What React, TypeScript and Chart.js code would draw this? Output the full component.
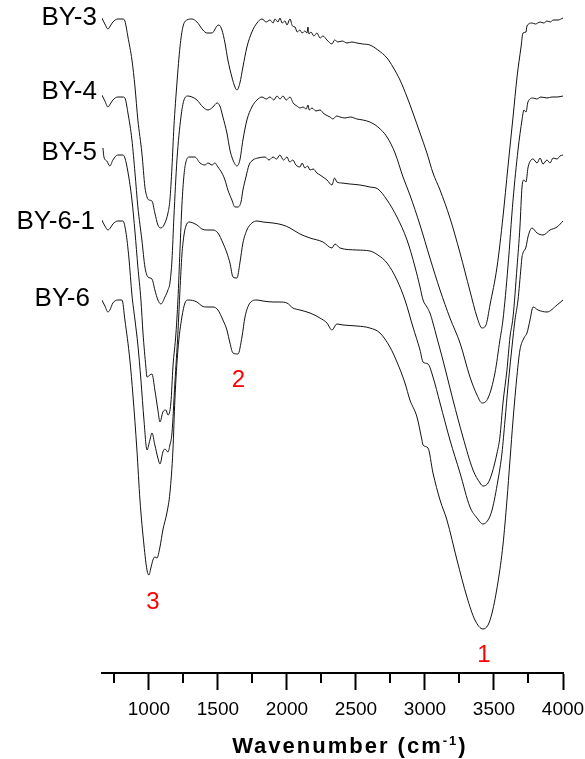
import React, { useEffect, useRef } from "react";
import { Chart, registerables } from "chart.js";

Chart.register(...registerables);

type Pt = [number, number];

// FTIR transmittance traces, [wavenumber (cm-1), transmittance (a.u., offset per sample)]
const BY3: Pt[] = [
  [659, 655], [681, 649], [703, 644], [720, 647], [739, 651], [775, 654], [812, 654], [826, 652],
  [848, 636], [877, 613], [899, 586], [920, 553], [949, 520], [971, 486], [986, 476], [1000, 473],
  [1022, 472], [1043, 460], [1065, 448], [1087, 445], [1116, 450], [1138, 460], [1152, 473], [1167, 506],
  [1181, 546], [1203, 590], [1225, 626], [1246, 646], [1275, 653], [1312, 654], [1348, 651], [1391, 643],
  [1420, 640], [1457, 640], [1493, 647], [1507, 648], [1529, 643], [1551, 630], [1572, 613], [1601, 596],
  [1623, 586], [1638, 583], [1659, 590], [1681, 606], [1710, 626], [1746, 641], [1783, 650], [1819, 654],
  [1850, 651], [1877, 653], [1900, 650], [1913, 654], [1935, 651], [1949, 655], [1965, 650], [1986, 652],
  [2000, 648], [2022, 654], [2040, 647], [2058, 646], [2075, 641], [2094, 643], [2110, 640], [2130, 642],
  [2145, 640], [2152, 646], [2160, 639], [2174, 641], [2195, 637], [2217, 640], [2240, 635], [2261, 637],
  [2290, 633], [2326, 629], [2345, 633], [2370, 631], [2400, 632], [2435, 630], [2470, 631], [2507, 630],
  [2550, 629], [2601, 628], [2659, 623], [2725, 615], [2768, 606], [2819, 593], [2870, 576], [2913, 560],
  [2964, 540], [3014, 520], [3058, 500], [3109, 483], [3181, 455], [3254, 420], [3326, 382], [3377, 356],
  [3413, 345], [3442, 348], [3471, 368], [3522, 406], [3565, 456], [3601, 506], [3638, 556], [3667, 596],
  [3696, 626], [3710, 640], [3732, 641], [3739, 647], [3775, 650], [3800, 649], [3834, 651], [3860, 650],
  [3884, 652], [3910, 651], [3928, 653], [3964, 653], [4000, 655],
];

const BY4: Pt[] = [
  [659, 578], [681, 572], [703, 566], [720, 569], [739, 573], [775, 576], [812, 576], [826, 575],
  [848, 560], [877, 533], [899, 500], [920, 466], [949, 433], [971, 406], [993, 396], [1022, 394],
  [1043, 383], [1065, 373], [1087, 369], [1116, 376], [1138, 383], [1152, 390], [1167, 413], [1181, 456],
  [1203, 513], [1232, 556], [1254, 573], [1283, 577], [1312, 576], [1348, 573], [1391, 566], [1428, 563],
  [1464, 566], [1493, 570], [1514, 567], [1536, 556], [1565, 540], [1587, 523], [1609, 513], [1638, 507],
  [1659, 513], [1681, 533], [1710, 553], [1746, 566], [1783, 573], [1819, 576], [1850, 574], [1877, 576],
  [1905, 573], [1928, 577], [1950, 574], [1971, 577], [1995, 573], [2022, 576], [2045, 570], [2072, 567],
  [2095, 565], [2116, 566], [2140, 564], [2152, 568], [2162, 563], [2181, 565], [2210, 562], [2239, 563],
  [2270, 559], [2312, 556], [2333, 554], [2360, 557], [2384, 556], [2420, 555], [2460, 556], [2507, 554],
  [2550, 553], [2601, 551], [2659, 546], [2725, 536], [2783, 520], [2841, 496], [2891, 478], [2964, 448],
  [3036, 415], [3109, 383], [3181, 355], [3254, 330], [3326, 296], [3377, 278], [3413, 270], [3457, 275],
  [3507, 300], [3543, 333], [3565, 353], [3601, 406], [3638, 473], [3674, 523], [3703, 553], [3717, 563],
  [3732, 561], [3746, 571], [3783, 575], [3810, 574], [3840, 576], [3884, 575], [3920, 576], [3957, 576],
  [4000, 577],
];

const BY5: Pt[] = [
  [667, 525], [674, 516], [695, 512], [717, 507], [739, 513], [775, 518], [812, 518], [826, 515],
  [848, 501], [877, 473], [899, 441], [920, 406], [942, 373], [957, 340], [978, 306], [986, 296],
  [1007, 298], [1022, 299], [1043, 283], [1065, 263], [1080, 251], [1101, 261], [1123, 263], [1138, 258],
  [1159, 270], [1174, 306], [1196, 340], [1210, 373], [1225, 423], [1239, 468], [1254, 498], [1268, 511],
  [1290, 516], [1333, 516], [1370, 510], [1406, 508], [1428, 510], [1457, 508], [1478, 510], [1500, 506],
  [1529, 500], [1551, 493], [1572, 483], [1601, 473], [1623, 466], [1645, 466], [1667, 471], [1681, 483],
  [1703, 496], [1725, 508], [1754, 513], [1790, 515], [1841, 516], [1870, 513], [1899, 516], [1925, 514],
  [1949, 518], [1975, 513], [2000, 516], [2020, 511], [2043, 513], [2065, 508], [2094, 506], [2110, 510],
  [2130, 505], [2150, 507], [2167, 503], [2190, 504], [2217, 500], [2240, 498], [2261, 496], [2290, 493],
  [2326, 488], [2345, 495], [2362, 491], [2398, 490], [2457, 489], [2529, 488], [2601, 486], [2659, 484],
  [2725, 473], [2797, 456], [2870, 433], [2928, 406], [2964, 386], [2986, 373], [3014, 366], [3036, 360],
  [3058, 350], [3087, 335], [3130, 313], [3203, 273], [3275, 236], [3348, 203], [3399, 190], [3420, 187],
  [3457, 190], [3486, 200], [3522, 220], [3543, 236], [3565, 270], [3594, 303], [3616, 336], [3638, 356],
  [3667, 406], [3688, 446], [3703, 486], [3717, 493], [3732, 491], [3746, 505], [3768, 513], [3783, 514],
  [3812, 510], [3834, 515], [3855, 509], [3884, 513], [3906, 510], [3928, 515], [3957, 514], [3978, 517],
  [4000, 518],
];

const BY61: Pt[] = [
  [659, 453], [681, 447], [703, 443], [720, 445], [739, 449], [775, 452], [812, 452], [833, 441],
  [855, 415], [877, 378], [899, 353], [920, 328], [942, 293], [964, 253], [986, 223], [1007, 233],
  [1022, 240], [1043, 228], [1065, 215], [1080, 209], [1101, 221], [1116, 224], [1138, 221], [1152, 228],
  [1167, 240], [1188, 290], [1210, 340], [1225, 383], [1239, 418], [1254, 438], [1268, 447], [1290, 451],
  [1348, 448], [1384, 444], [1420, 443], [1464, 443], [1500, 440], [1536, 430], [1565, 420], [1587, 410],
  [1609, 396], [1638, 395], [1659, 410], [1681, 430], [1710, 443], [1746, 450], [1783, 452], [1826, 451],
  [1899, 450], [1971, 448], [2022, 445], [2094, 439], [2167, 435], [2261, 431], [2326, 425], [2348, 429],
  [2384, 425], [2507, 423], [2601, 422], [2659, 418], [2725, 410], [2797, 393], [2855, 373], [2913, 346],
  [2964, 323], [2986, 311], [3022, 309], [3058, 296], [3109, 270], [3181, 233], [3254, 200], [3326, 166],
  [3377, 155], [3420, 149], [3457, 153], [3486, 163], [3529, 193], [3558, 220], [3580, 253], [3601, 286],
  [3638, 336], [3652, 353], [3674, 373], [3696, 406], [3703, 416], [3710, 420], [3732, 426], [3746, 436],
  [3775, 445], [3812, 440], [3855, 438], [3906, 443], [3957, 446], [4000, 452],
];

const BY6: Pt[] = [
  [659, 373], [681, 367], [703, 361], [717, 363], [739, 370], [775, 373], [805, 373], [826, 353],
  [862, 313], [884, 278], [913, 223], [935, 173], [964, 128], [986, 103], [1000, 98], [1014, 105],
  [1029, 113], [1043, 116], [1058, 115], [1080, 126], [1101, 143], [1130, 160], [1152, 180], [1174, 223],
  [1188, 273], [1210, 323], [1239, 356], [1261, 370], [1283, 373], [1348, 371], [1384, 367], [1420, 366],
  [1464, 366], [1500, 363], [1536, 353], [1565, 343], [1587, 330], [1609, 320], [1645, 319], [1674, 336],
  [1696, 356], [1732, 370], [1783, 373], [1826, 372], [1899, 371], [1949, 371], [2000, 370], [2043, 365],
  [2094, 363], [2167, 360], [2239, 355], [2290, 350], [2326, 343], [2362, 349], [2406, 348], [2507, 347],
  [2601, 345], [2674, 340], [2746, 326], [2797, 311], [2855, 290], [2891, 273], [2942, 256], [2978, 233],
  [2986, 228], [3022, 225], [3058, 200], [3109, 173], [3159, 153], [3232, 113], [3304, 76], [3362, 53],
  [3420, 44], [3457, 48], [3486, 60], [3529, 91], [3565, 128], [3594, 173], [3616, 213], [3638, 253],
  [3667, 298], [3688, 323], [3717, 335], [3739, 340], [3761, 353], [3783, 366], [3819, 363], [3884, 361],
  [3957, 368], [4000, 373],
];

const sampleNames = ["BY-3", "BY-4", "BY-5", "BY-6-1", "BY-6"];
const sampleTraces = [BY3, BY4, BY5, BY61, BY6];
// right edge (cm-1) and level of each sample name
const sampleNameAnchors: Pt[] = [[623, 655], [623, 581], [623, 520], [609, 451], [573, 374]];

const bandNames = ["1", "2", "3"];
const bandAnchors: Pt[] = [[3427, 18], [1648, 292.5], [1029, 70.5]];

const majorTicks = [1000, 1500, 2000, 2500, 3000, 3500, 4000];
const minorTicks = [750, 1250, 1750, 2250, 2750, 3250, 3750];
const axisTitle = "Wavenumber (cm";
const axisTitleSup = "-1";
const axisTitleEnd = ")";
const axisTitleCenter = 2456;

const X_MIN = 660;
const X_MAX = 4000;
const Y_MIN = 0;
const Y_MAX = 665;

const FAMILY = '"Liberation Sans", Arial, Helvetica, sans-serif';

const annotations = {
  id: "ftirAnnotations",
  afterDraw(chart: any) {
    const { ctx } = chart;
    const xs = chart.scales.x;
    const ys = chart.scales.y;
    ctx.save();

    // short minor ticks between the labelled ones
    ctx.strokeStyle = "#000";
    ctx.lineWidth = 2;
    for (const v of minorTicks) {
      const px = Math.round(xs.getPixelForValue(v));
      ctx.beginPath();
      ctx.moveTo(px, xs.top);
      ctx.lineTo(px, xs.top + 10);
      ctx.stroke();
    }

    // sample names next to each trace
    ctx.fillStyle = "#000";
    ctx.font = `26px ${FAMILY}`;
    ctx.textAlign = "right";
    ctx.textBaseline = "middle";
    sampleNames.forEach((name, i) => {
      const [wx, lv] = sampleNameAnchors[i];
      ctx.fillText(name, xs.getPixelForValue(wx), ys.getPixelForValue(lv));
    });

    // band numbers
    ctx.fillStyle = "#ff0000";
    ctx.font = `24px ${FAMILY}`;
    ctx.textAlign = "center";
    bandNames.forEach((name, i) => {
      const [wx, lv] = bandAnchors[i];
      ctx.fillText(name, xs.getPixelForValue(wx), ys.getPixelForValue(lv));
    });

    // axis title with superscript
    ctx.fillStyle = "#000";
    ctx.textBaseline = "alphabetic";
    ctx.textAlign = "left";
    const mainFont = `bold 22px ${FAMILY}`;
    const supFont = `bold 13px ${FAMILY}`;
    const spacing = 2;
    ctx.letterSpacing = `${spacing}px`;
    ctx.font = mainFont;
    const wMain = ctx.measureText(axisTitle).width;
    const wEnd = ctx.measureText(axisTitleEnd).width;
    ctx.font = supFont;
    const wSup = ctx.measureText(axisTitleSup).width;
    const total = wMain + wSup + wEnd;
    const cx = xs.getPixelForValue(axisTitleCenter);
    const base = xs.top + 80;
    let left = cx - total / 2;
    ctx.font = mainFont;
    ctx.fillText(axisTitle, left, base);
    left += wMain;
    ctx.font = supFont;
    ctx.fillText(axisTitleSup, left, base - 8);
    left += wSup;
    ctx.font = mainFont;
    ctx.fillText(axisTitleEnd, left, base);
    ctx.letterSpacing = "0px";

    ctx.restore();
  },
};

export default function App() {
  const canvasRef = useRef<HTMLCanvasElement>(null);

  useEffect(() => {
    const canvas = canvasRef.current;
    if (!canvas) return;
    const chart = new Chart(canvas, {
      type: "line",
      data: {
        datasets: sampleTraces.map((trace, i) => ({
          label: sampleNames[i],
          data: trace.map(([x, y]) => ({ x, y })),
          borderColor: "#111",
          borderWidth: 1,
          pointRadius: 0,
          fill: false,
          cubicInterpolationMode: "monotone" as const,
        })),
      },
      options: {
        responsive: false,
        animation: false,
        devicePixelRatio: 1,
        layout: { padding: { left: 102, right: 22, top: 8, bottom: 0 } },
        plugins: { legend: { display: false }, tooltip: { enabled: false } },
        scales: {
          x: {
            type: "linear",
            min: X_MIN,
            max: X_MAX,
            afterBuildTicks: (scale: any) => {
              scale.ticks = majorTicks.map((value) => ({ value }));
            },
            afterFit: (scale: any) => {
              scale.height = 86;
              scale.paddingLeft = 0;
              scale.paddingRight = 0;
            },
            grid: {
              display: true,
              drawOnChartArea: false,
              drawTicks: true,
              tickLength: 17,
              tickWidth: 2,
              tickColor: "#000",
            },
            border: { display: true, color: "#000", width: 2 },
            ticks: {
              color: "#000",
              font: { family: FAMILY, size: 19 },
              padding: 8,
              maxRotation: 0,
              autoSkip: false,
              callback: (v: any) => String(v),
            },
          },
          y: { display: false, min: Y_MIN, max: Y_MAX },
        },
      },
      plugins: [annotations],
    });
    return () => chart.destroy();
  }, []);

  return (
    <div style={{ position: "fixed", left: 0, top: 0, width: 585, height: 759, background: "#fff" }}>
      <canvas ref={canvasRef} width={585} height={759} style={{ display: "block" }} />
    </div>
  );
}
